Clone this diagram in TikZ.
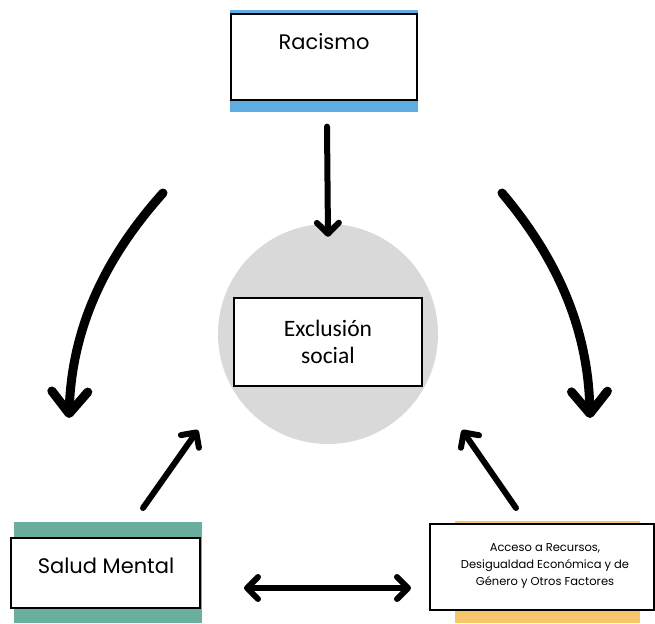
\documentclass[tikz,border=0pt]{standalone}
\usepackage{fontspec}
\setmainfont{Carlito}
\newfontfamily\gothic{Poppins}
\usetikzlibrary{arrows.meta}
\definecolor{racblue}{RGB}{93,173,226}
\definecolor{saludgreen}{RGB}{106,174,158}
\definecolor{accyellow}{RGB}{245,199,106}
\definecolor{circgray}{RGB}{217,217,217}
\begin{document}
\begin{tikzpicture}[x=1pt,y=-1pt,
  whitebox/.style={draw=black,fill=white,line width=1.2pt,inner sep=0pt},
  boldarrow/.style={line width=6pt,line cap=round,-{Straight Barb[length=11pt,width=22pt,line cap=round,line join=round]}},
  bendarrow/.style={line width=9pt,line cap=round,
    -{Straight Barb[length=22pt,width=36pt,line cap=round,line join=round]}}]
\useasboundingbox (0,0) rectangle (655,623);

% colour bars behind the boxes
\fill[racblue] (230,10) rectangle (418,112);
\fill[saludgreen] (14,522) rectangle (202,623);
\fill[accyellow] (455,521) rectangle (640,623);

\node[circle,fill=circgray,minimum size=220pt] (circ) at (328,334) {};
\node[whitebox,minimum width=188pt,minimum height=88pt,align=center,
  font=\fontsize{23.5}{27}\selectfont] (excl) at (328,342) {Exclusión\\social};

\node[whitebox,minimum width=186pt,minimum height=86pt] (rac) at (324,57) {};
\node[font=\gothic\fontsize{21}{24}\selectfont] (ractxt) at (324,42) {Racismo};

\node[whitebox,minimum width=189pt,minimum height=70pt] (salud) at (105.5,573) {};
\node[font=\gothic\fontsize{21}{24}\selectfont] (saludtxt) at (106,566) {Salud Mental};

\node[whitebox,minimum width=224pt,minimum height=86pt] (acc) at (542,567) {};
\node[font=\gothic\fontsize{11.5}{17}\selectfont,align=center] (acctxt) at (545,566)
  {Acceso a Recursos,\\Desigualdad Económica y de\\Género y Otros Factores};

% curved arrows
\coordinate (l0) at (163,193);
\coordinate (l1) at (69,418);
\coordinate (r0) at (502,193);
\coordinate (r1) at (590,418);
\draw[bendarrow] (l0) .. controls (112,250) and (72,320) .. (l1);
\draw[bendarrow] (r0) .. controls (550,250) and (588,320) .. (r1);

% straight arrows
\draw[boldarrow] (rac.south) ++(3,26) -- ([yshift=-13pt]circ.north);
\coordinate (a0) at (143,508);
\coordinate (a1) at (198,430);
\coordinate (b0) at (516,508);
\coordinate (b1) at (462,430);
\draw[boldarrow] (a0) -- (a1);
\draw[boldarrow] (b0) -- (b1);
\coordinate (d0) at (244,588);
\coordinate (d1) at (411,588);
\draw[line width=6pt,line cap=round,{Straight Barb[length=11pt,width=22pt,line cap=round,line join=round]}-{Straight Barb[length=11pt,width=22pt,line cap=round,line join=round]}]
  (d0) -- (d1);
\end{tikzpicture}
\end{document}
